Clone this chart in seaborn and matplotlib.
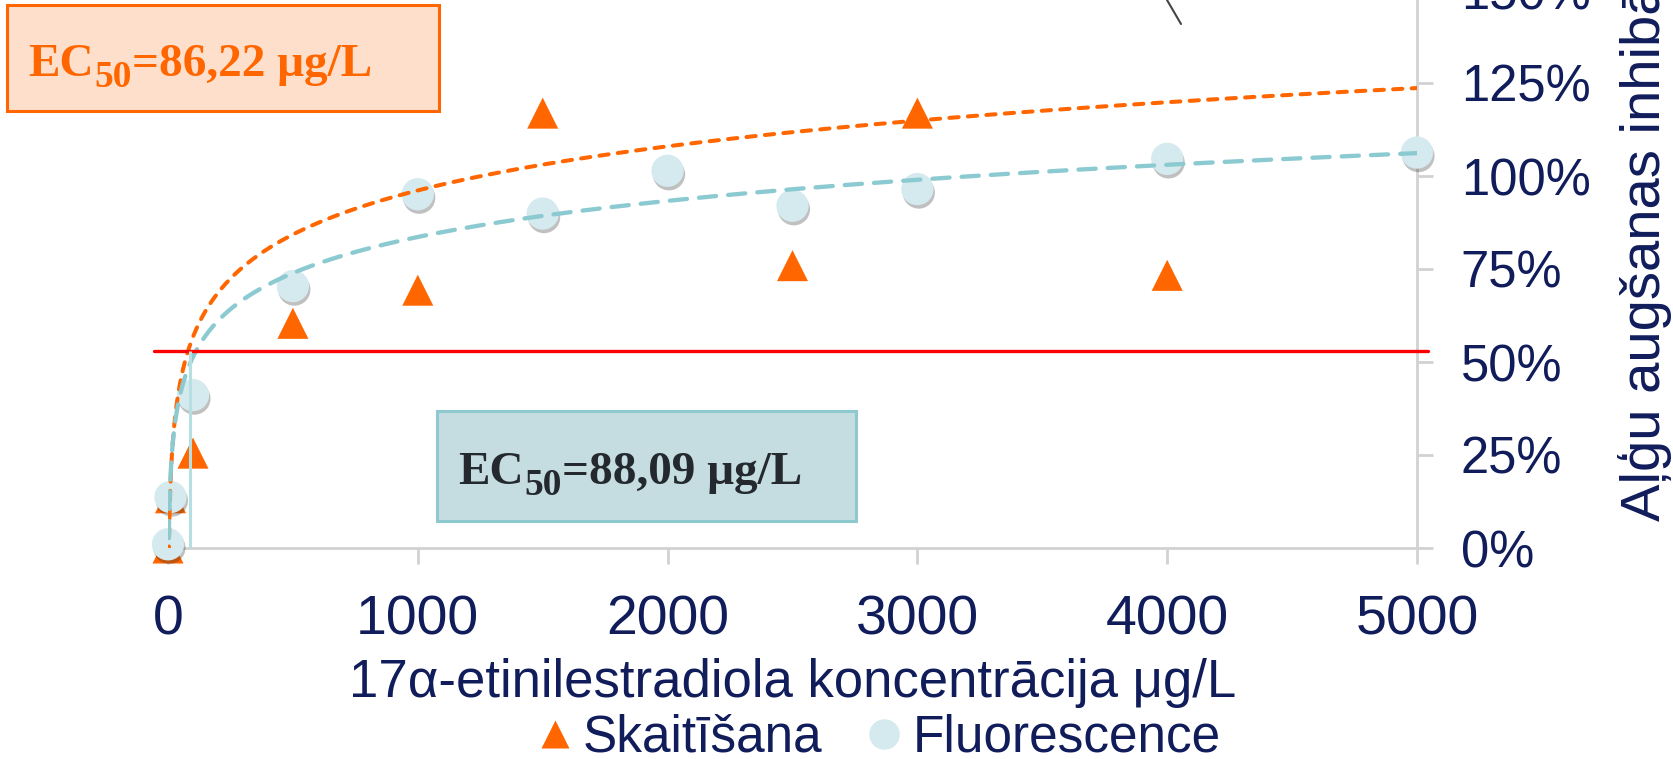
import numpy as np
import seaborn as sns
import matplotlib.pyplot as plt
import matplotlib.patheffects as pe
from matplotlib.patches import Rectangle
from matplotlib.lines import Line2D

# ==============================================
# Data
# ==============================================
conc_skait = [0, 10, 100, 500, 1000, 1500, 2500, 3000, 4000]
inhib_skait = [0, 13.5, 25.5, 60.4, 69.3, 116.9, 75.9, 116.9, 73.3]

conc_fluor = [0, 10, 100, 500, 1000, 1500, 2000, 2500, 3000, 4000, 5000]
inhib_fluor = [1.0, 13.7, 41.1, 70.4, 95.1, 89.9, 101.4, 92.0, 96.5, 104.6, 106.3]

# logarithmic trendlines y = a*ln(x) + b
trend_skait = (17.1, -22.0)
trend_fluor = (14.0, -13.1)

ec50_skait = 86.22
ec50_fluor = 88.09
half_level = 53.0   # the drawn "50 %" line sits slightly above the tick

xticks = [0, 1000, 2000, 3000, 4000, 5000]
yticks = [0, 25, 50, 75, 100, 125, 150]

label_skait = "Skaitīšana"
label_fluor = "Fluorescence"

# ==============================================
# Style
# ==============================================
sns.set_theme(style="white")
plt.rcParams["font.family"] = ["Liberation Sans", "DejaVu Sans"]

navy = "#111d5b"
orange = "#ff6600"
circ_face = "#d5eaee"
blue_dash = "#8ccad2"
grey = "#d2d2d2"

W, H = 1673, 759
fig = plt.figure(figsize=(W / 100, H / 100), dpi=100)
ax = fig.add_axes([168 / W, 1 - 548 / H, (1417 - 168) / W, (548 + 10) / H])

# ==============================================
# Markers
# ==============================================
sns.scatterplot(x=conc_skait, y=inhib_skait, marker="^", s=500, color=orange,
                edgecolor="none", ax=ax, clip_on=False, zorder=3)
sns.scatterplot(x=conc_fluor, y=inhib_fluor, marker="o", s=540, color=circ_face,
                edgecolor="none", ax=ax, clip_on=False, zorder=4)
ax.collections[-1].set_path_effects([
    pe.SimplePatchShadow(offset=(1, -2.5), shadow_rgbFace="#303030", alpha=0.3),
    pe.Normal()])

# ==============================================
# Trendlines
# ==============================================
xs = np.geomspace(1, 5000, 600)
a, b = trend_skait
sns.lineplot(x=xs, y=a * np.log(xs) + b, ax=ax, color=orange, lw=2.9,
             linestyle=(0, (2.3, 2.3)), dash_capstyle="round", zorder=5)
a, b = trend_fluor
sns.lineplot(x=xs, y=a * np.log(xs) + b, ax=ax, color=blue_dash, lw=3.1,
             linestyle=(0, (4.0, 2.8)), dash_capstyle="round", zorder=6)

# EC50 helper lines
ax.plot([-0.011, 1.009], [half_level, half_level], transform=ax.get_yaxis_transform(),
        color="#ff0000", lw=2.4, clip_on=False, zorder=7)
ax.vlines(ec50_fluor, 0, half_level, color="#b6dfe4", lw=2.2, zorder=7)

# ==============================================
# Axes
# ==============================================
ax.set_xlim(0, 5000)
ax.set_ylim(0, 150)
ax.set_xticks(xticks)
ax.set_xticklabels([str(v) for v in xticks])
ax.yaxis.tick_right()
ax.yaxis.set_label_position("right")
ax.set_yticks(yticks)
ax.set_yticklabels([f"{v}%" for v in yticks])

for side in ["left", "top"]:
    ax.spines[side].set_visible(False)
for side in ["bottom", "right"]:
    ax.spines[side].set_color(grey)
    ax.spines[side].set_linewidth(2)

ax.tick_params(axis="x", direction="out", length=11.5, width=2, color=grey,
               labelsize=40, labelcolor=navy, pad=22, bottom=True)
ax.tick_params(axis="y", direction="out", length=11.5, width=2, color=grey,
               labelsize=36.5, labelcolor=navy, pad=20, right=True, left=False)

ax.set_xlabel("17α-etinilestradiola koncentrācija μg/L", fontsize=38, color=navy)
ax.xaxis.set_label_coords(0.5, -(697 - 548) / 558)
ax.xaxis.label.set_va("baseline")

ax.set_ylabel("Aļģu augšanas inhibācija", fontsize=40.5, color=navy, rotation=90)
ax.yaxis.set_label_coords((1645 - 168) / 1249, (548 - 521) / 558)
ax.yaxis.label.set_rotation_mode("anchor")
ax.yaxis.label.set_va("center")
ax.yaxis.label.set_ha("left")

# ==============================================
# Legend
# ==============================================
handles = [
    Line2D([], [], ls="none", marker="^", ms=20, color=orange, mec="none"),
    Line2D([], [], ls="none", marker="o", ms=22, color=circ_face, mec="none"),
]
fig.legend(handles, [label_skait, label_fluor], loc="center",
           bbox_to_anchor=(880 / W, 1 - 738 / H), ncol=2, frameon=False,
           fontsize=37, labelcolor=navy, handlelength=0.6, handletextpad=0.25,
           columnspacing=0.9, borderaxespad=0)

# ==============================================
# EC50 boxes
# ==============================================
renderer = fig.canvas.get_renderer()


def ec50_text(x_px, y_px, value, color):
    # EC + lowered subscript 50 + value, laid out left to right on one baseline
    kw = dict(family="Liberation Serif", fontweight="bold", color=color,
              ha="left", va="baseline")
    t = fig.text(x_px / W, 1 - y_px / H, "EC", fontsize=34, **kw)
    x_px = t.get_window_extent(renderer).x1 + 1
    t = fig.text(x_px / W, 1 - (y_px + 11) / H, "50", fontsize=27, **kw)
    x_px = t.get_window_extent(renderer).x1
    fig.text(x_px / W, 1 - y_px / H, "=" + f"{value:.2f}".replace(".", ",") + " μg/L",
             fontsize=34, **kw)


fig.add_artist(Rectangle((7 / W, 1 - 111 / H), 432 / W, 106 / H,
                         transform=fig.transFigure, facecolor="#fddfcb",
                         edgecolor=orange, lw=2.2))
ec50_text(28, 76, ec50_skait, orange)

fig.add_artist(Rectangle((437 / W, 1 - 521 / H), 419 / W, 110 / H,
                         transform=fig.transFigure, facecolor="#c5dde0",
                         edgecolor="#8fc9d0", lw=2.2))
ec50_text(458, 484, ec50_fluor, "#23292e")

# bit of an arrow cut off at the top edge of the slide
fig.add_artist(Line2D([1167 / W, 1181 / W], [1, 1 - 24 / H], color="#444444", lw=1.5))

fig.savefig("out.png", dpi=100)
